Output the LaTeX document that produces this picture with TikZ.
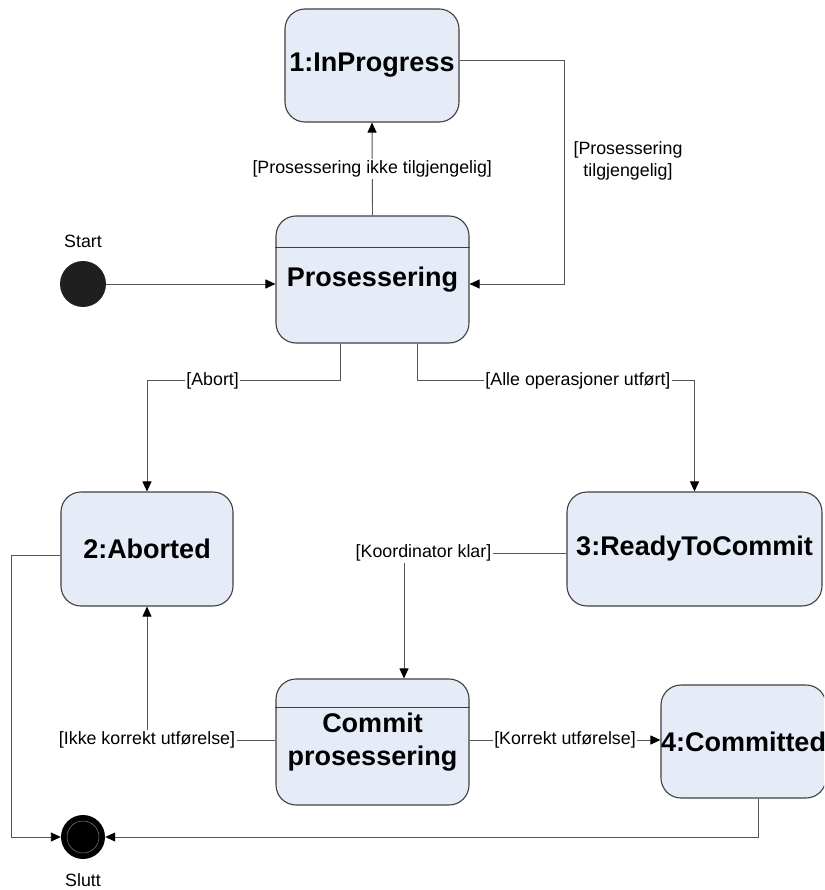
\documentclass[tikz,border=0pt]{standalone}
\usepackage{fontspec}
\setmainfont{Liberation Sans}
\usetikzlibrary{arrows.meta,calc}
\definecolor{statefill}{RGB}{230,236,247}
\definecolor{stateedge}{RGB}{64,64,64}
\definecolor{wire}{RGB}{85,85,85}
\begin{document}
\begin{tikzpicture}[x=1pt,y=-1pt,
  state/.style={draw=stateedge, line width=1.1pt, fill=statefill, rounded corners=20pt,
    inner sep=0pt, align=center, font=\fontsize{27}{33}\selectfont\bfseries},
  lbl/.style={fill=white, inner sep=1.5pt, align=center, font=\fontsize{17.8}{22}\selectfont},
  caption/.style={inner sep=0pt, align=center, font=\fontsize{17.8}{22}\selectfont},
  flow/.style={draw=wire, line width=0.9pt,
    -{Triangle[length=10pt,width=9pt,color=black,fill=black]}},
  divider/.style={draw=stateedge, line width=1pt},
]
\useasboundingbox (0,0) rectangle (824,890);
\clip (0,0) rectangle (824,890);
\fill[white] (0,0) rectangle (824,890);

% states
\node[state, minimum width=174pt, minimum height=113pt] (inprog) at (372,65.5) {1:InProgress};
\node[state, minimum width=193pt, minimum height=127pt] (pros) at (372.5,279.5) {Prosessering};
\node[state, minimum width=172pt, minimum height=114pt] (aborted) at (147,549) {2:Aborted};
\node[state, minimum width=255pt, minimum height=114pt] (ready) at (694.5,549) {3:ReadyToCommit};
\node[state, minimum width=193pt, minimum height=126pt] (commit) at (372.5,742) {Commit\\prosessering};
\node[state, minimum width=165pt, minimum height=113pt] (committed) at (743.5,741.5) {4:Committed};

% compartment lines
\draw[divider] ([yshift=-32pt]pros.north west) -- ([yshift=-32pt]pros.north east);
\draw[divider] ([yshift=-29pt]commit.north west) -- ([yshift=-29pt]commit.north east);

% initial and final pseudo-states
\node[circle, fill=black!88, minimum size=46pt, inner sep=0pt] (start) at (83,284) {};
\node[caption] (startlbl) at (83,241) {Start};
\node[circle, fill=black, minimum size=44pt, inner sep=0pt] (end) at (83,837) {};
\draw[gray, line width=0.5pt] (end.center) circle[radius=16pt];
\node[caption] (endlbl) at (83,880) {Slutt};

% transitions
\draw[flow] (start) -- ([yshift=-4.5pt]pros.west);
\draw[flow] (pros.north) -- (inprog.south)
  node[lbl, midway] {[Prosessering ikke tilgjengelig]};
\draw[flow] ([yshift=5.5pt]inprog.east) -| ([xshift=95pt,yshift=-4.5pt]pros.east)
  -- ([yshift=-4.5pt]pros.east);
\node[caption] (tilglbl) at (628,161) {[Prosessering\\tilgjengelig]};
\draw[flow] ([xshift=-32.5pt]pros.south) -- ++(0,37) -| (aborted.north)
  node[lbl, pos=0.33] {[Abort]};
\draw[flow] ([xshift=44.5pt]pros.south) -- ++(0,37) -| (ready.north)
  node[lbl, pos=0.29] {[Alle operasjoner utført]};
\draw[flow] ([yshift=-4pt]ready.west) -| ([xshift=31.5pt]commit.north)
  node[lbl, pos=0.44] {[Koordinator klar]};
\draw[flow] ([yshift=2pt]commit.west) -| (aborted.south)
  node[lbl, pos=0.5] {[Ikke korrekt utførelse]};
\draw[flow] ([yshift=2pt]commit.east) -- ([yshift=1.5pt]committed.west)
  node[lbl, midway] {[Korrekt utførelse]};
\draw[flow] ([yshift=-6pt]aborted.west) -- ++(-49,0) |- (end.west);
\draw[flow] ([xshift=14.5pt]committed.south) |- (end.east);
\end{tikzpicture}
\end{document}
